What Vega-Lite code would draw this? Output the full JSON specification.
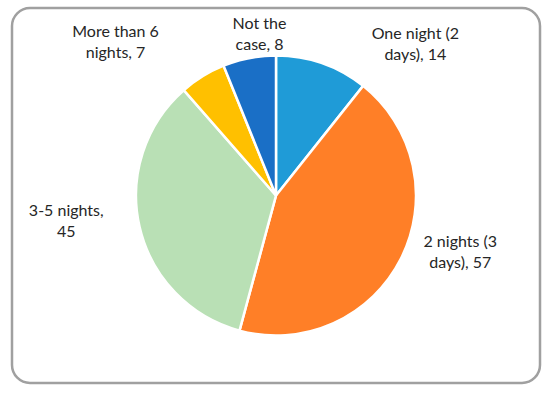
{
  "$schema": "https://vega.github.io/schema/vega-lite/v6.json",
  "width": 528,
  "height": 375,
  "autosize": {"type": "none"},
  "padding": {"left": 12, "top": 8, "right": 10, "bottom": 17},
  "background": "white",
  "view": {"stroke": "#a0a0a0", "strokeWidth": 2.5, "cornerRadius": 18, "fill": "white"},
  "data": {
    "values": [
      {"cat": "One night (2 days)", "value": 14, "ord": 1, "label": "One night (2\ndays), 14"},
      {"cat": "2 nights (3 days)", "value": 57, "ord": 2, "label": "2 nights (3\ndays), 57"},
      {"cat": "3-5 nights", "value": 45, "ord": 3, "label": "3-5 nights,\n45"},
      {"cat": "More than 6 nights", "value": 7, "ord": 4, "label": "More than 6\nnights, 7"},
      {"cat": "Not the case", "value": 8, "ord": 5, "label": "Not the\ncase, 8"}
    ]
  },
  "encoding": {
    "theta": {"field": "value", "type": "quantitative", "stack": true},
    "order": {"field": "ord", "type": "quantitative"},
    "color": {
      "field": "cat", "type": "nominal", "legend": null,
      "scale": {
        "domain": ["One night (2 days)", "2 nights (3 days)", "3-5 nights", "More than 6 nights", "Not the case"],
        "range": ["#1f9bd7", "#ff7f27", "#b9e0b5", "#ffc000", "#1a6fc6"]
      }
    }
  },
  "layer": [
    {"mark": {"type": "arc", "outerRadius": 140, "stroke": "white", "strokeWidth": 2.5}},
    {
      "mark": {"type": "text", "radius": 165, "dx": 85, "dy": -6, "font": "Lato", "fontSize": 16, "lineHeight": 21, "lineBreak": "\n", "align": "center", "baseline": "middle"},
      "encoding": {"text": {"condition": {"test": "datum.ord == 1", "field": "label"}, "value": ""}, "color": {"value": "#262626"}}
    },
    {
      "mark": {"type": "text", "radius": 165, "dx": 37, "dy": -28, "font": "Lato", "fontSize": 16, "lineHeight": 21, "lineBreak": "\n", "align": "center", "baseline": "middle"},
      "encoding": {"text": {"condition": {"test": "datum.ord == 2", "field": "label"}, "value": ""}, "color": {"value": "#262626"}}
    },
    {
      "mark": {"type": "text", "radius": 165, "dx": -49, "dy": -22, "font": "Lato", "fontSize": 16, "lineHeight": 21, "lineBreak": "\n", "align": "center", "baseline": "middle"},
      "encoding": {"text": {"condition": {"test": "datum.ord == 3", "field": "label"}, "value": ""}, "color": {"value": "#262626"}}
    },
    {
      "mark": {"type": "text", "radius": 165, "dx": -74, "dy": -23, "font": "Lato", "fontSize": 16, "lineHeight": 21, "lineBreak": "\n", "align": "center", "baseline": "middle"},
      "encoding": {"text": {"condition": {"test": "datum.ord == 4", "field": "label"}, "value": ""}, "color": {"value": "#262626"}}
    },
    {
      "mark": {"type": "text", "radius": 165, "dx": 15, "dy": -10, "font": "Lato", "fontSize": 16, "lineHeight": 21, "lineBreak": "\n", "align": "center", "baseline": "middle"},
      "encoding": {"text": {"condition": {"test": "datum.ord == 5", "field": "label"}, "value": ""}, "color": {"value": "#262626"}}
    }
  ]
}
